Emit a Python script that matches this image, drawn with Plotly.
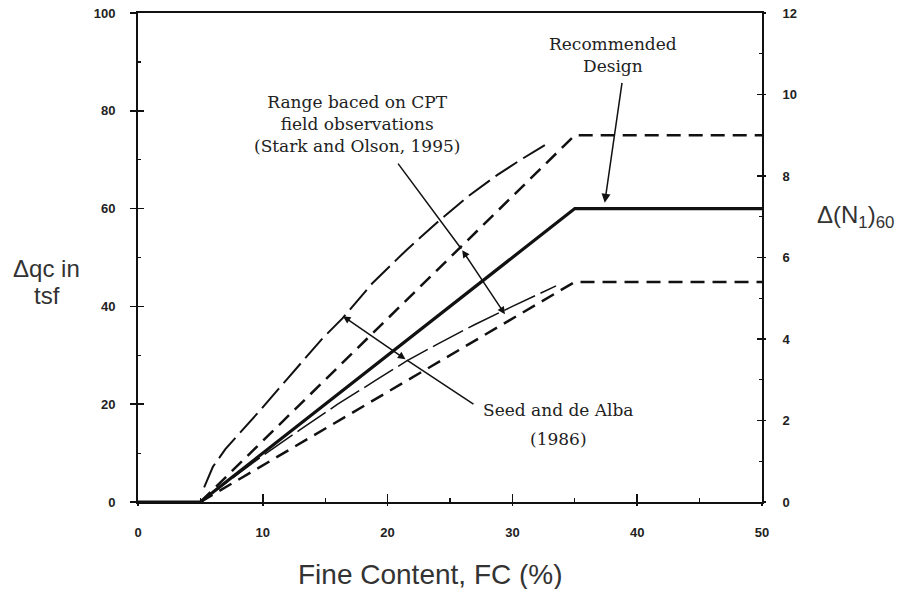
import plotly.graph_objects as go

# ---------------- data ----------------
fc_design = [0, 5, 35, 50]
dq_design = [0, 0, 60, 60]

fc_stark_upper = [5, 35, 50]
dq_stark_upper = [0, 75, 75]

fc_stark_lower = [5, 35, 50]
dq_stark_lower = [0, 45, 45]

fc_seed_upper = [5.3, 6, 7, 8.5, 9.8, 12, 14.8, 16.4, 18.8, 21.5, 24.2, 26.5, 28.8, 30.8, 32.6]
dq_seed_upper = [3, 7.2, 10.8, 15, 18.8, 25.3, 33.5, 37.6, 44.8, 51.5, 57.7, 62.6, 66.9, 70.2, 73]

fc_seed_lower = [5, 7, 10, 13, 16, 19, 21.5, 24, 27, 30, 32.5, 33.5]
dq_seed_lower = [0, 3.8, 9.5, 14.8, 20, 24.8, 28.8, 32.3, 36.3, 40, 43, 44.2]

x_ticks = [0, 10, 20, 30, 40, 50]
y_ticks = [0, 20, 40, 60, 80, 100]
n_ticks = [0, 2, 4, 6, 8, 10, 12]

INK = "#111111"
SERIF = "DejaVu Serif"
SANS = "Liberation Sans"

# full-window figure; the page body margin is removed in post_script
W, H = 901, 589
L, R, T, B = 138, 139, 13, 87

fig = go.Figure()

fig.add_trace(go.Scatter(x=fc_seed_upper, y=dq_seed_upper, mode="lines",
                         line=dict(color=INK, width=2, dash="26px,7px"), hoverinfo="skip"))
fig.add_trace(go.Scatter(x=fc_stark_upper, y=dq_stark_upper, mode="lines",
                         line=dict(color=INK, width=2.5, dash="14px,8px"), hoverinfo="skip"))
fig.add_trace(go.Scatter(x=fc_stark_lower, y=dq_stark_lower, mode="lines",
                         line=dict(color=INK, width=2.5, dash="14px,8px"), hoverinfo="skip"))
fig.add_trace(go.Scatter(x=fc_seed_lower, y=dq_seed_lower, mode="lines",
                         line=dict(color=INK, width=1.5, dash="34px,6px"), hoverinfo="skip"))
fig.add_trace(go.Scatter(x=fc_design, y=dq_design, mode="lines",
                         line=dict(color=INK, width=3.2), hoverinfo="skip"))
# invisible traces to activate overlay axes (outer half of crossing ticks)
fig.add_trace(go.Scatter(x=[None], y=[None], xaxis="x2", yaxis="y3", showlegend=False))
fig.add_trace(go.Scatter(x=[None], y=[None], xaxis="x2", yaxis="y4", showlegend=False))
fig.add_trace(go.Scatter(x=[None], y=[None], xaxis="x", yaxis="y2", showlegend=False))

tickfont = dict(family=SANS, size=13, color="#222222", weight="bold")
common = dict(showgrid=False, zeroline=False, automargin=False)

fig.update_layout(
    width=W, height=H,
    margin=dict(l=L, r=R, t=T, b=B, autoexpand=False),
    paper_bgcolor="white", plot_bgcolor="white",
    showlegend=False,
    xaxis=dict(range=[0, 50], tickvals=x_ticks, ticks="inside", ticklen=8, tickwidth=1.5,
               tickcolor=INK, minor=dict(dtick=5, ticks="inside", ticklen=4, tickwidth=1.2, tickcolor=INK),
               showline=True, linewidth=2, linecolor=INK, mirror=True,
               tickfont=tickfont, ticklabelstandoff=17, ticklabeloverflow="allow", **common),
    yaxis=dict(range=[0, 100], tickvals=y_ticks, ticks="inside", ticklen=6, tickwidth=1.5,
               tickcolor=INK, minor=dict(dtick=10, ticks="inside", ticklen=3, tickwidth=1.2, tickcolor=INK),
               showline=True, linewidth=2, linecolor=INK,
               tickfont=tickfont, ticklabelstandoff=18, ticklabeloverflow="allow", **common),
    yaxis2=dict(range=[0, 12], tickvals=n_ticks, overlaying="y", side="right", anchor="x",
                ticks="inside", ticklen=5, tickwidth=1.5, tickcolor=INK,
                minor=dict(dtick=1, ticks="inside", ticklen=3, tickwidth=1.2, tickcolor=INK),
                showline=True, linewidth=2, linecolor=INK,
                tickfont=tickfont, ticklabelstandoff=16, ticklabeloverflow="allow", **common),
    xaxis2=dict(range=[0, 50], tickvals=x_ticks, overlaying="x", side="bottom", anchor="y3",
                ticks="outside", ticklen=3, tickwidth=1.5, tickcolor=INK,
                showticklabels=False, showline=False, **common),
    yaxis3=dict(range=[0, 100], tickvals=y_ticks, overlaying="y", side="left", anchor="x2",
                ticks="outside", ticklen=7, tickwidth=1.5, tickcolor=INK,
                showticklabels=False, showline=False, **common),
    yaxis4=dict(range=[0, 12], tickvals=n_ticks, overlaying="y", side="right", anchor="free",
                position=1, ticks="outside", ticklen=3, tickwidth=1.5, tickcolor=INK,
                showticklabels=False, showline=False, **common),
)

txt = dict(family=SERIF, size=17, color="#222222")
anns = []
# text blocks
anns.append(dict(x=38.05, y=91.5, xref="x", yref="y", text="Recommended<br>Design",
                 showarrow=False, font=txt, align="center"))
anns.append(dict(x=17.55, y=77.4, xref="x", yref="y",
                 text="Range baced on CPT<br>field observations<br>(Stark and Olson, 1995)",
                 showarrow=False, font=txt, align="center"))
anns.append(dict(x=33.7, y=18.8, xref="x", yref="y", text="Seed and de Alba",
                 showarrow=False, font=txt, align="center"))
anns.append(dict(x=33.7, y=12.9, xref="x", yref="y", text="(1986)",
                 showarrow=False, font=txt, align="center"))
# arrows
arrow = dict(xref="x", yref="y", axref="x", ayref="y", text="", showarrow=True,
             arrowcolor=INK, arrowwidth=1.5)
anns.append(dict(arrow, x=37.4, y=61.2, ax=38.8, ay=86.0, arrowhead=2, arrowsize=1.2))
# Stark range: leader + double-headed arrow
anns.append(dict(arrow, x=25.9, y=51.8, ax=20.75, ay=69.5, arrowhead=0))
anns.append(dict(arrow, x=29.4, y=38.4, ax=25.9, ay=51.8, arrowhead=2, startarrowhead=2,
                 arrowside="end+start", arrowsize=1, startarrowsize=1))
# Seed range: double-headed arrow + leader
anns.append(dict(arrow, x=16.43, y=38.0, ax=21.55, ay=29.0, arrowhead=2, startarrowhead=2,
                 arrowside="end+start", arrowsize=1, startarrowsize=1))
anns.append(dict(arrow, x=21.55, y=29.0, ax=27.0, ay=19.8, arrowhead=0))

# axis titles (positions given in picture pixels)
titles = [
    dict(x=46, y=268, text="Δqc in", size=24),
    dict(x=47, y=295, text="tsf", size=24),
    dict(x=430, y=574, text="Fine Content, FC (%)", size=28),
    dict(x=855, y=216, text="Δ(N<sub>1</sub>)<sub>60</sub>", size=24),
]
pw, ph = W - L - R, H - T - B
for a in titles:
    px, py = a.pop("x"), a.pop("y")
    size = a.pop("size")
    a.update(x=(px - L) / pw, y=1 - (py - T) / ph, xref="paper", yref="paper",
             xanchor="center", yanchor="middle", showarrow=False,
             font=dict(family=SANS, size=size, color="#333333"))
    anns.append(a)

fig.update_layout(annotations=anns)
fig.write_html(
    "out.html",
    config={"displayModeBar": False, "staticPlot": True},
    post_script="document.body.style.margin='0';document.body.style.overflow='hidden';",
)
